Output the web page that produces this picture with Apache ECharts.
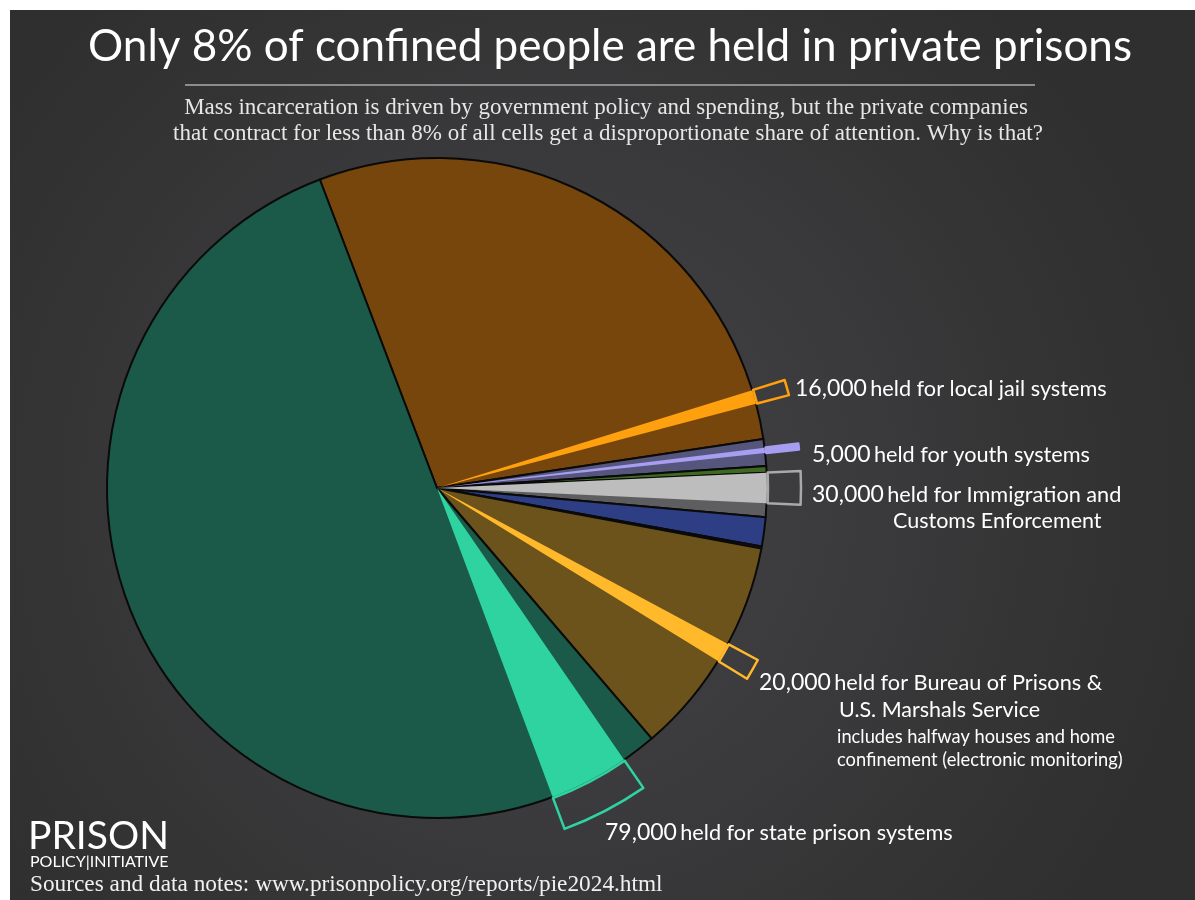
<!DOCTYPE html>
<html>
<head>
<meta charset="utf-8">
<script src="https://cdn.jsdelivr.net/npm/echarts@6/dist/echarts.min.js"></script>
<style>
html,body{margin:0;padding:0;background:#fff;}
#chart{width:1195px;height:900px;}
</style>
</head>
<body>
<div id="chart"></div>
<script>
// ---- data (thousands of people) ----
const sliceNames = ['Local jails', 'Youth', 'Territorial & Indian country', 'Immigration detention', 'Involuntary commitment', 'Military', 'Federal prisons & U.S. Marshals', 'State prisons'];
const sliceValues = [540, 25, 6, 41, 27, 2, 205, 1055];
// private portions, by parent slice index
const privateParent = [0, 1, 3, 6, 7];
const publicBefore = [494, 8, 0, 93, 32];
const privateValues = [13, 5, 28, 18, 74];
// label texts
const privateCounts = ['16,000', '5,000', '30,000', '20,000', '79,000'];
const privateTexts = ['held for local jail systems', 'held for youth systems', 'held for Immigration and', 'held for Bureau of Prisons &', 'held for state prison systems'];

// ---- styles ----
const sliceColors = ['#76460c', '#56567c', '#3d6a20', '#5e5e60', '#2e3e84', '#7a1c2c', '#6c531b', '#1b5a48'];
const privateColors = ['#ffa00e', '#a79ef2', '#bdbdbd', '#ffb92b', '#2fd3a0'];
const boxColors = ['#ffa00e', '#a79ef2', '#a9a9a9', '#ffb92b', '#2fd3a0'];
const CENTER = [437, 488];
const R = 330;

const chart = echarts.init(document.getElementById('chart'), null, {renderer: 'canvas'});

const mainData = sliceNames.map((n, i) => ({name: n, value: sliceValues[i], itemStyle: {color: sliceColors[i]}}));

const overlayData = [];
const boxData = [];
sliceValues.forEach((v, i) => {
  const k = privateParent.indexOf(i);
  if (k < 0) {
    overlayData.push({value: v, itemStyle: {color: 'transparent'}});
    boxData.push({value: v, itemStyle: {color: 'transparent', borderWidth: 0}});
  } else {
    const before = publicBefore[k], pv = privateValues[k], after = v - before - pv;
    if (before > 0) {
      overlayData.push({value: before, itemStyle: {color: 'transparent'}});
      boxData.push({value: before, itemStyle: {color: 'transparent', borderWidth: 0}});
    }
    overlayData.push({value: pv, itemStyle: {color: privateColors[k]}});
    boxData.push({value: pv, itemStyle: {color: k === 1 ? boxColors[k] : 'transparent', borderColor: boxColors[k], borderWidth: 2.5}});
    if (after > 0) {
      overlayData.push({value: after, itemStyle: {color: 'transparent'}});
      boxData.push({value: after, itemStyle: {color: 'transparent', borderWidth: 0}});
    }
  }
});

const START = 110.8;
const commonPie = {
  type: 'pie', center: CENTER, startAngle: START, clockwise: true, silent: true,
  label: {show: false}, labelLine: {show: false}, emphasis: {disabled: true},
  animation: false, avoidLabelOverlap: false
};

const LF = 'Lato, "Open Sans", sans-serif';
const SF = '"Liberation Serif", serif';
function label(x, y, num, txt) {
  return {
    type: 'text', x: x, y: y, z: 100, silent: true,
    style: {
      text: '{n|' + num + '} {t|' + txt + '}',
      fill: '#fff', verticalAlign: 'bottom', align: 'left',
      rich: {
        n: {fontSize: 23, fontFamily: LF, fill: '#fff', verticalAlign: 'bottom', lineHeight: 28},
        t: {fontSize: 21.7, fontFamily: LF, fill: '#fff', verticalAlign: 'bottom', lineHeight: 28}
      }
    }
  };
}
function plain(x, y, txt, size, family, align, color) {
  return {
    type: 'text', x: x, y: y, z: 100, silent: true,
    style: {text: txt, fontSize: size, fontFamily: family, fill: color || '#fff', align: align || 'left', verticalAlign: 'middle'}
  };
}

const option = {
  backgroundColor: '#ffffff',
  animation: false,
  graphic: [
    {type: 'rect', z: -10, silent: true, shape: {x: 10, y: 10, width: 1185, height: 890},
     style: {fill: new echarts.graphic.RadialGradient(0.45, 0.55, 0.75, [{offset: 0, color: '#454347'}, {offset: 1, color: '#2f2f2f'}])}},
    plain(610, 47, 'Only 8% of confined people are held in private prisons', 44, LF, 'center'),
    {type: 'line', z: 100, silent: true, shape: {x1: 185, y1: 85, x2: 1035, y2: 85}, style: {stroke: '#8c8c8c', lineWidth: 2}},
    plain(606, 108, 'Mass incarceration is driven by government policy and spending, but the private companies', 23, SF, 'center', '#e6e6e6'),
    plain(608, 134, 'that contract for less than 8% of all cells get a disproportionate share of attention. Why is that?', 23, SF, 'center', '#e6e6e6'),
    label(795, 400, privateCounts[0], privateTexts[0]),
    label(812, 466, privateCounts[1], privateTexts[1]),
    label(812, 506, privateCounts[2], privateTexts[2]),
    plain(893, 521, 'Customs Enforcement', 21.5, LF, 'left'),
    label(759, 694, privateCounts[3], privateTexts[3]),
    plain(839, 710, 'U.S. Marshals Service', 21.5, LF, 'left'),
    plain(837, 737, 'includes halfway houses and home', 18.3, LF, 'left'),
    plain(837, 760, 'confinement (electronic monitoring)', 18.3, LF, 'left'),
    label(605, 844, privateCounts[4], privateTexts[4]),
    plain(28, 836, 'PRISON', 39, LF, 'left'),
    plain(30, 862, 'POLICY|INITIATIVE', 16, LF, 'left'),
    plain(30, 885, 'Sources and data notes: www.prisonpolicy.org/reports/pie2024.html', 23.3, SF, 'left', '#f0f0f0')
  ],
  series: [
    Object.assign({}, commonPie, {
      name: 'total', z: 2, radius: [0, R],
      itemStyle: {borderColor: '#0a0a0a', borderWidth: 2},
      data: mainData
    }),
    Object.assign({}, commonPie, {
      name: 'private', z: 3, radius: [0, R],
      itemStyle: {borderWidth: 0},
      data: overlayData
    }),
    Object.assign({}, commonPie, {
      name: 'box', z: 4, radius: [R + 1, R + 34],
      data: boxData
    })
  ]
};
chart.setOption(option);
</script>
</body>
</html>
